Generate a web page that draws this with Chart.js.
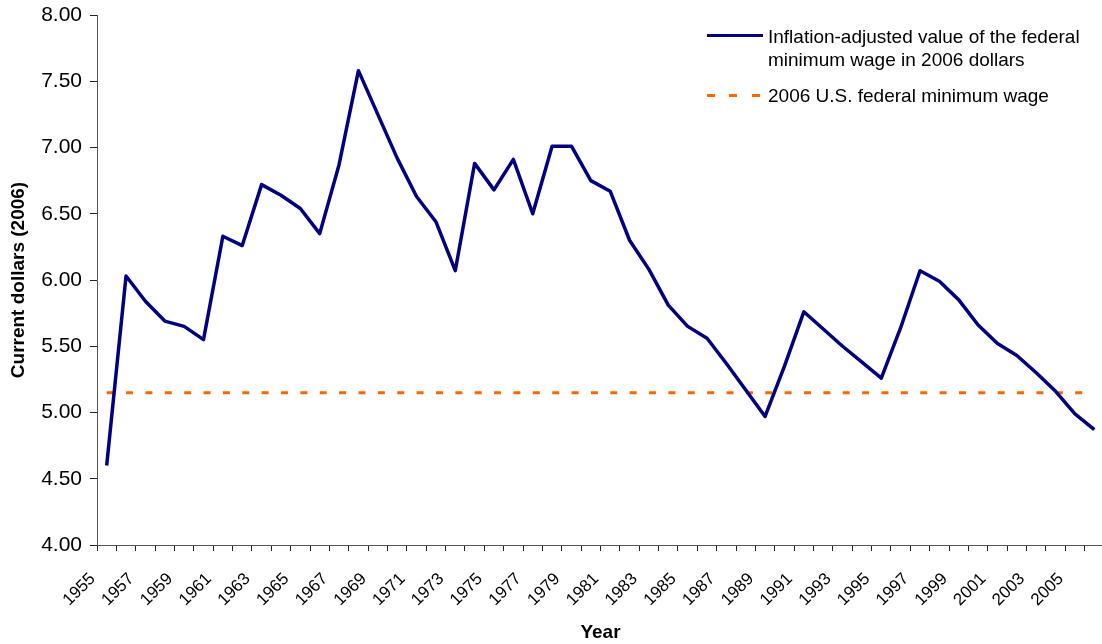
<!DOCTYPE html>
<html>
<head>
<meta charset="utf-8">
<script src="https://cdn.jsdelivr.net/npm/chart.js@4"></script>
<style>
  html, body { margin: 0; padding: 0; background: #fff; overflow: hidden; }
  #wrap { position: relative; width: 1102px; height: 644px; overflow: hidden; }
  canvas { display: block; }
  .lg { position: absolute; font-family: "Liberation Sans", Arial, sans-serif; font-size: 19px; color: #000; line-height: 23px; white-space: nowrap; }
  .sw { position: absolute; height: 3px; }
</style>
</head>
<body>
<div id="wrap">
  <canvas id="c" width="1104" height="644"></canvas>
  <div class="sw" style="left:707px; top:34px; width:56px; background:#000080;"></div>
  <div class="lg" style="left:768px; top:25px;">Inflation-adjusted value of the federal<br>minimum wage in 2006 dollars</div>
  <div class="sw" style="left:707px; top:94px; width:8px; background:#FF6600;"></div>
  <div class="sw" style="left:729px; top:94px; width:8px; background:#FF6600;"></div>
  <div class="sw" style="left:752px; top:94px; width:8px; background:#FF6600;"></div>
  <div class="lg" style="left:768px; top:84px;">2006 U.S. federal minimum wage</div>
</div>
<script>
const years = [1955,1956,1957,1958,1959,1960,1961,1962,1963,1964,1965,1966,1967,1968,1969,1970,
  1971,1972,1973,1974,1975,1976,1977,1978,1979,1980,1981,1982,1983,1984,1985,1986,1987,1988,
  1989,1990,1991,1992,1993,1994,1995,1996,1997,1998,1999,2000,2001,2002,2003,2004,2005,2006];
const realWage = [4.60,6.03,5.84,5.69,5.65,5.55,6.33,6.26,6.72,6.64,6.54,6.35,6.87,7.58,7.25,6.92,
  6.63,6.44,6.07,6.88,6.68,6.91,6.50,7.01,7.01,6.75,6.67,6.30,6.08,5.81,5.65,5.56,5.37,5.17,
  4.97,5.35,5.76,5.63,5.50,5.38,5.26,5.64,6.07,5.99,5.85,5.66,5.52,5.43,5.30,5.16,4.99,4.87];
const minWage2006 = years.map(() => 5.15);
const yTicks = [4.00,4.50,5.00,5.50,6.00,6.50,7.00,7.50,8.00];
const seriesNames = ["Inflation-adjusted value of the federal minimum wage in 2006 dollars", "2006 U.S. federal minimum wage"];

const FONT = '"Liberation Sans", Arial, sans-serif';
Chart.defaults.color = '#000';
Chart.defaults.font.family = FONT;

new Chart(document.getElementById('c'), {
  type: 'line',
  data: {
    labels: years.map(String),
    datasets: [
      { label: seriesNames[0], data: realWage, borderColor: '#000080', borderWidth: 3.5,
        pointRadius: 0, tension: 0, fill: false, borderJoinStyle: 'round', order: 1 },
      { label: seriesNames[1], data: minWage2006, borderColor: '#FF6600', borderWidth: 3,
        borderDash: [7, 12.37], pointRadius: 0, tension: 0, fill: false, order: 2 }
    ]
  },
  options: {
    responsive: false,
    animation: false,
    layout: { padding: { top: 15, right: 0, bottom: 0, left: 0 } },
    plugins: { legend: { display: false }, tooltip: { enabled: false } },
    scales: {
      x: {
        type: 'category',
        offset: true,
        grid: { display: true, drawOnChartArea: false, drawTicks: true, tickLength: 6, offset: true, color: '#222', tickColor: '#222' },
        border: { display: true, color: '#555', width: 1 },
        ticks: {
          autoSkip: false, maxRotation: 45, minRotation: 45, padding: 18, labelOffset: -14,
          font: { size: 17, family: FONT }, color: '#000',
          callback: function(v, i) { return i % 2 === 0 ? this.getLabelForValue(v) : ''; }
        },
        title: { display: true, text: 'Year', font: { size: 19, weight: 'bold', family: FONT }, padding: { top: 0, bottom: 0 }, color: '#000' },
        afterFit: s => { s.height = 99; s.paddingLeft = 0; s.paddingRight = 0; }
      },
      y: {
        min: 4, max: 8,
        afterBuildTicks: s => { s.ticks = yTicks.map(v => ({ value: v })); },
        grid: { display: true, drawOnChartArea: false, drawTicks: true, tickLength: 7, color: '#222', tickColor: '#222' },
        border: { display: true, color: '#555', width: 1 },
        ticks: { padding: 8, font: { size: 21, family: FONT }, color: '#000', callback: v => Number(v).toFixed(2) },
        title: { display: true, text: 'Current dollars (2006)', font: { size: 19, weight: 'bold', family: FONT }, padding: { top: 7, bottom: 0 }, color: '#000' },
        afterFit: s => { s.width = 97; s.paddingTop = 0; s.paddingBottom = 0; }
      }
    }
  }
});
</script>
</body>
</html>
